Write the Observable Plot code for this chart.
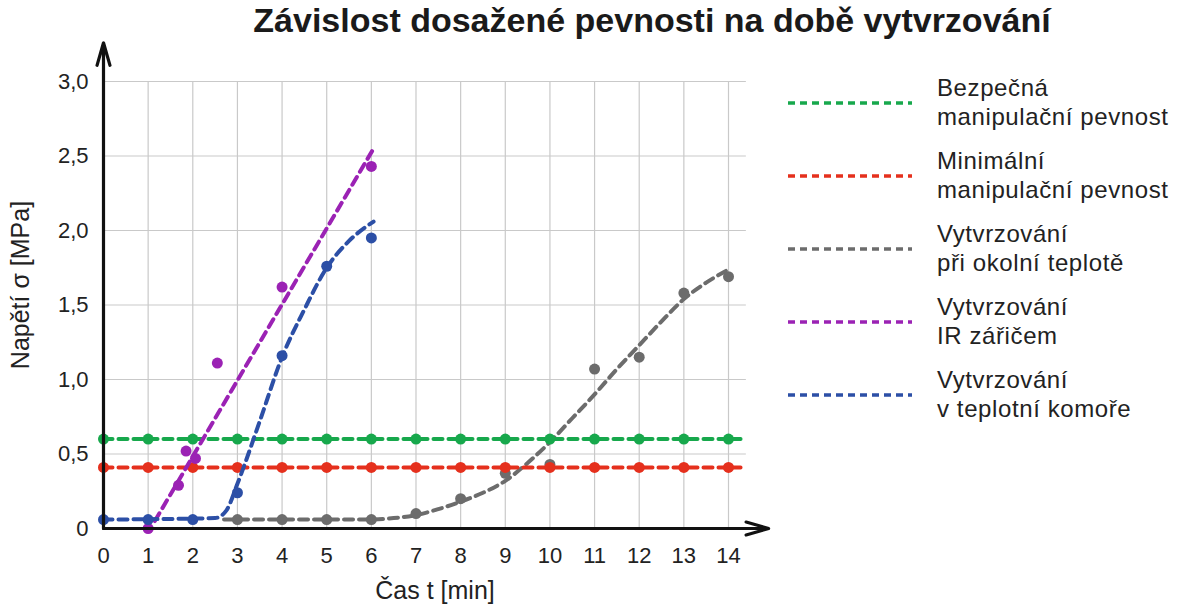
<!DOCTYPE html>
<html>
<head>
<meta charset="utf-8">
<script src="https://cdn.jsdelivr.net/npm/d3@7"></script>
<script src="https://cdn.jsdelivr.net/npm/@observablehq/plot@0.6"></script>
<style>
  html, body { margin: 0; padding: 0; background: #fff; }
  body { font-family: "Liberation Sans", Arial, Helvetica, sans-serif; color: #222; }
  #wrap { position: relative; width: 1189px; height: 610px; overflow: hidden; }
  #chart { position: absolute; left: 0; top: 0; }
  #title { position: absolute; top: 3px; left: 652px; transform: translateX(-50%); white-space: nowrap;
           font-weight: bold; font-size: 34px; line-height: 34px; color: #1a1a1a; }
  .lg-line { position: absolute; left: 788px; width: 124px; height: 6px; }
  .lg-text { position: absolute; left: 937px; font-size: 24px; line-height: 29px; letter-spacing: 0.6px; color: #222; white-space: nowrap; }
  #chart svg text.lbl { letter-spacing: 0.6px; }
</style>
</head>
<body>
<div id="wrap">
  <div id="chart"></div>
  <div id="title"></div>
  <div id="legend"></div>
</div>
<script>
// ---------- data ----------
const titleText = "Závislost dosažené pevnosti na době vytvrzování";
const xLabel = "Čas t [min]";
const yLabel = "Napětí σ [MPa]";

const xTicks = [0, 1, 2, 3, 4, 5, 6, 7, 8, 9, 10, 11, 12, 13, 14];
const yTicks = [0, 0.5, 1.0, 1.5, 2.0, 2.5, 3.0];
const gridX = [1, 2, 3, 4, 5, 6, 7, 8, 9, 10, 11, 12, 13, 14];
const gridY = [0.5, 1.0, 1.5, 2.0, 2.5, 3.0];

// threshold levels (horizontal dashed lines with markers at each minute)
const safeLevel = 0.60;   // Bezpečná manipulační pevnost
const minLevel = 0.41;    // Minimální manipulační pevnost
const thresholdTimes = [0, 1, 2, 3, 4, 5, 6, 7, 8, 9, 10, 11, 12, 13, 14];
const thresholdLineTimes = [0, 14.27];

// Vytvrzování při okolní teplotě (measured)
const ambientTime = [3, 4, 5, 6, 7, 8, 9, 10, 11, 12, 13, 14];
const ambientStrength = [0.06, 0.06, 0.06, 0.06, 0.10, 0.20, 0.37, 0.43, 1.07, 1.15, 1.58, 1.69];
// trend curve
const ambientFitTime = [2.7, 6, 6.5, 7, 7.5, 8, 8.5, 9, 9.5, 10, 10.5, 11, 11.5, 12, 12.5, 13, 13.5, 13.95];
const ambientFitStrength = [0.06, 0.06, 0.07, 0.09, 0.13, 0.18, 0.24, 0.32, 0.44, 0.58, 0.74, 0.90, 1.07, 1.23, 1.39, 1.54, 1.65, 1.73];

// Vytvrzování IR zářičem (measured)
const irTime = [1, 1.68, 1.85, 2.06, 2.55, 4, 6];
const irStrength = [0.0, 0.29, 0.52, 0.47, 1.11, 1.62, 2.43];
const irFitTime = [1.15, 6.05];
const irFitStrength = [0.05, 2.55];

// Vytvrzování v teplotní komoře (measured)
const chamberTime = [0, 1, 2, 3, 4, 5, 6];
const chamberStrength = [0.06, 0.06, 0.06, 0.24, 1.16, 1.76, 1.95];
const chamberFitTime = [0, 2.5, 2.75, 3, 3.5, 4, 4.5, 5, 5.5, 6.05];
const chamberFitStrength = [0.06, 0.07, 0.12, 0.30, 0.72, 1.15, 1.47, 1.75, 1.93, 2.06];

// axis arrow extents (data units)
const xAxisEnd = 14.9;
const yAxisEnd = 3.26;
const gridRightEnd = 14.4;

// legend
const legendLabels = [
  ["Bezpečná", "manipulační pevnost"],
  ["Minimální", "manipulační pevnost"],
  ["Vytvrzování", "při okolní teplotě"],
  ["Vytvrzování", "IR zářičem"],
  ["Vytvrzování", "v teplotní komoře"]
];
const colors = {
  safe: "#17a84c",
  min: "#e5301d",
  ambient: "#6c6c6c",
  ir: "#9b22b4",
  chamber: "#2c4fa6"
};
const legendColors = [colors.safe, colors.min, colors.ambient, colors.ir, colors.chamber];

// ---------- build tables ----------
const zip = (xs, ys) => xs.map((x, i) => ({x, y: ys[i]}));
const safePts = thresholdTimes.map(x => ({x, y: safeLevel}));
const minPts = thresholdTimes.map(x => ({x, y: minLevel}));
const safeLine = thresholdLineTimes.map(x => ({x, y: safeLevel}));
const minLine = thresholdLineTimes.map(x => ({x, y: minLevel}));
const ambientPts = zip(ambientTime, ambientStrength);
const ambientFit = zip(ambientFitTime, ambientFitStrength);
const irPts = zip(irTime, irStrength);
const irFit = zip(irFitTime, irFitStrength);
const chamberPts = zip(chamberTime, chamberStrength);
const chamberFit = zip(chamberFitTime, chamberFitStrength);
const axesData = [
  {x1: 0, y1: 0, x2: xAxisEnd, y2: 0},
  {x1: 0, y1: 0, x2: 0, y2: yAxisEnd}
];

const fmtY = d => d === 0 ? "0" : d.toFixed(1).replace(".", ",");
const dash = "9 6";
const lw = 4;
const r = 5.5;

const plot = Plot.plot({
  width: 1189,
  height: 610,
  marginLeft: 103,
  marginRight: 461,
  marginTop: 81,
  marginBottom: 82,
  style: {fontFamily: "'Liberation Sans', Arial, Helvetica, sans-serif", fontSize: "22px", color: "#222", background: "transparent", overflow: "visible"},
  x: {domain: [0, 14]},
  y: {domain: [0, 3]},
  marks: [
    Plot.ruleX(gridX, {x: d => d, y1: 0, y2: 3, stroke: "#c9c9c9", strokeWidth: 1.2}),
    Plot.ruleY(gridY, {y: d => d, x1: 0, x2: gridRightEnd, stroke: "#c9c9c9", strokeWidth: 1.2}),
    Plot.axisX({ticks: xTicks, tickSize: 0, tickPadding: 19, tickFormat: d => String(d), label: null, fontSize: 22}),
    Plot.axisY({ticks: yTicks, tickSize: 0, tickPadding: 15, tickFormat: fmtY, label: null, fontSize: 22}),
    // ambient
    Plot.line(ambientFit, {x: "x", y: "y", stroke: colors.ambient, strokeWidth: lw, strokeDasharray: dash, curve: "monotone-x"}),
    Plot.dot(ambientPts, {x: "x", y: "y", r, fill: colors.ambient}),
    // thresholds
    Plot.line(minLine, {x: "x", y: "y", stroke: colors.min, strokeWidth: lw, strokeDasharray: dash}),
    Plot.dot(minPts, {x: "x", y: "y", r, fill: colors.min}),
    Plot.line(safeLine, {x: "x", y: "y", stroke: colors.safe, strokeWidth: lw, strokeDasharray: dash}),
    Plot.dot(safePts, {x: "x", y: "y", r, fill: colors.safe}),
    // IR
    Plot.line(irFit, {x: "x", y: "y", stroke: colors.ir, strokeWidth: lw, strokeDasharray: dash}),
    Plot.dot(irPts, {x: "x", y: "y", r, fill: colors.ir}),
    // chamber
    Plot.line(chamberFit, {x: "x", y: "y", stroke: colors.chamber, strokeWidth: lw, strokeDasharray: dash, curve: "monotone-x"}),
    Plot.dot(chamberPts, {x: "x", y: "y", r, fill: colors.chamber}),
    // axes with arrows
    Plot.arrow(axesData, {x1: "x1", y1: "y1", x2: "x2", y2: "y2", stroke: "#111", strokeWidth: 3.2, headLength: 11, headAngle: 32}),
    // axis titles
    Plot.text([xLabel], {text: d => d, frameAnchor: "bottom", textAnchor: "middle", lineAnchor: "middle", dx: 19, dy: 62, fontSize: 25, fill: "#222", className: "lbl"}),
    Plot.text([yLabel], {text: d => d, frameAnchor: "left", textAnchor: "middle", lineAnchor: "middle", rotate: -90, dx: -83, dy: -20, fontSize: 25, fill: "#222", className: "lbl"})
  ]
});
document.getElementById("chart").appendChild(plot);
document.getElementById("title").textContent = titleText;

// legend
const legend = document.getElementById("legend");
legendLabels.forEach((lines, i) => {
  const cy = 103 + i * 73;
  const svgNS = "http://www.w3.org/2000/svg";
  const s = document.createElementNS(svgNS, "svg");
  s.setAttribute("class", "lg-line");
  s.setAttribute("width", "124");
  s.setAttribute("height", "6");
  s.style.top = (cy - 3) + "px";
  const ln = document.createElementNS(svgNS, "line");
  ln.setAttribute("x1", "0"); ln.setAttribute("x2", "124");
  ln.setAttribute("y1", "3"); ln.setAttribute("y2", "3");
  ln.setAttribute("stroke", legendColors[i]);
  ln.setAttribute("stroke-width", "3.5");
  ln.setAttribute("stroke-dasharray", "7 5");
  s.appendChild(ln);
  legend.appendChild(s);
  const t = document.createElement("div");
  t.className = "lg-text";
  t.style.top = (cy - 30) + "px";
  t.innerHTML = lines.join("<br>");
  legend.appendChild(t);
});
</script>
</body>
</html>
